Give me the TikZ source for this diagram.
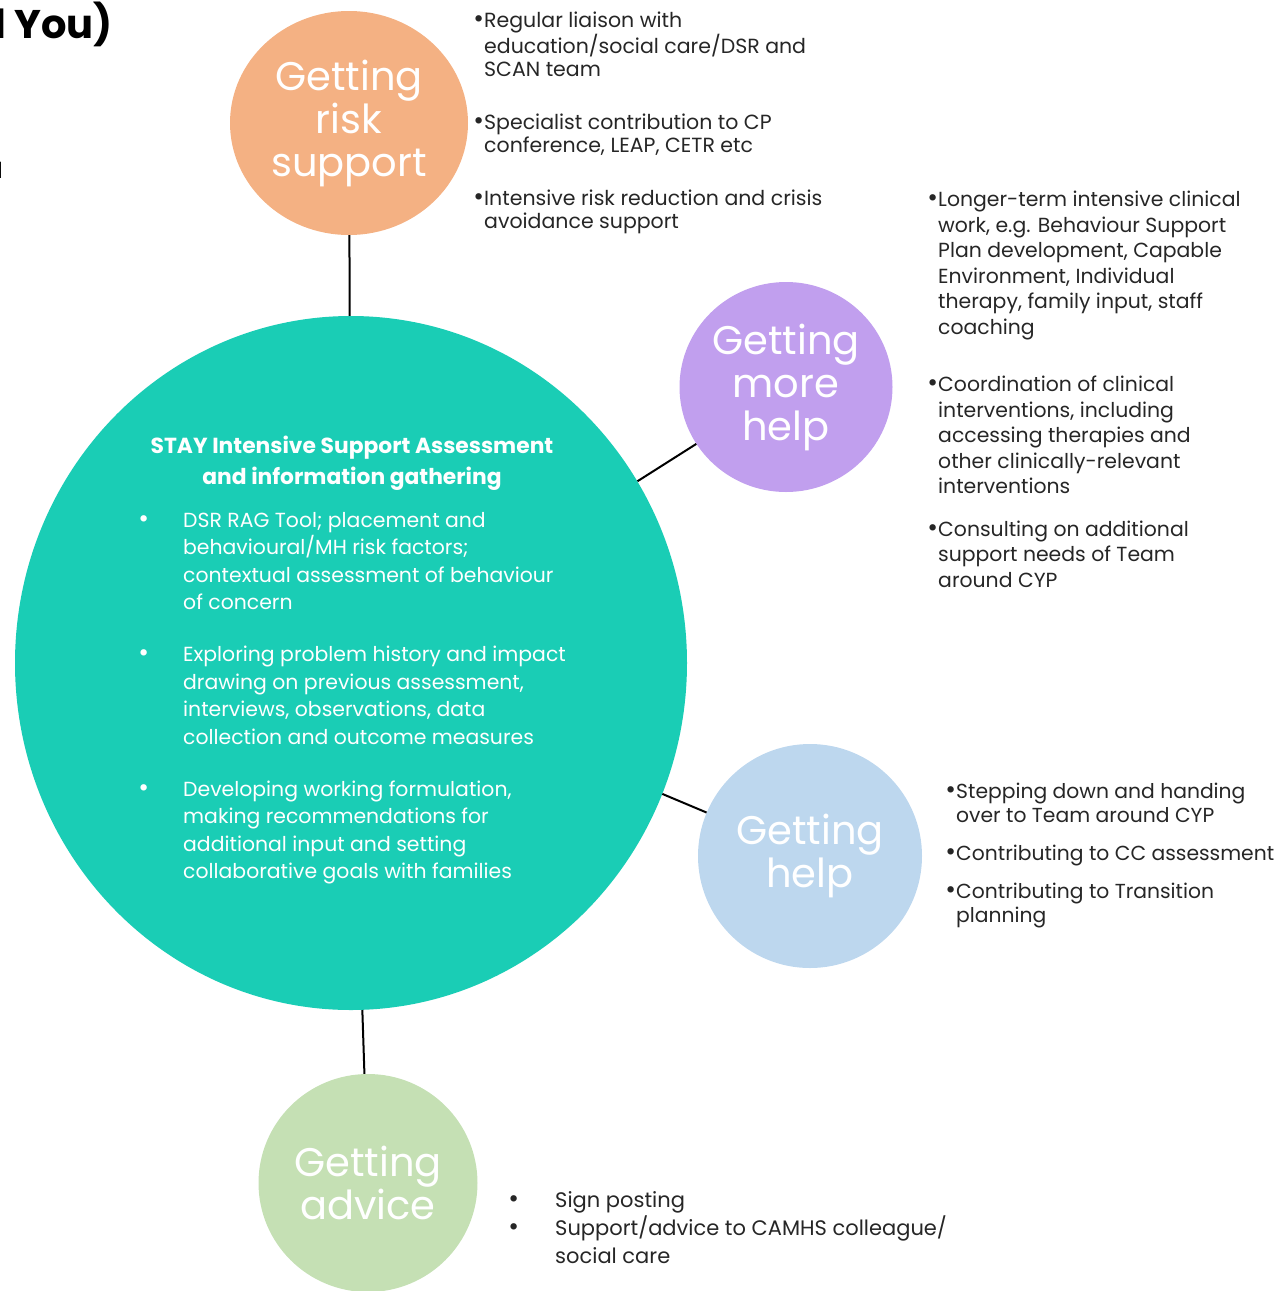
\documentclass[tikz,border=0pt]{standalone}
\usepackage{fontspec}
\setmainfont{Poppins}
\usetikzlibrary{shapes.geometric}

\definecolor{stayteal}{HTML}{1ACDB5}
\definecolor{riskorange}{HTML}{F4B183}
\definecolor{morepurple}{HTML}{C19FEE}
\definecolor{helpblue}{HTML}{BDD7EE}
\definecolor{advicegreen}{HTML}{C5E0B4}
\newcommand{\blt}{{\fontsize{26}{0}\selectfont •}}

\begin{document}
\begin{tikzpicture}[x=1pt, y=-1pt,
    blob/.style={ellipse, inner sep=0pt, text=white, align=center, font=\fontsize{40}{43}\selectfont},
    notes/.style={anchor=north west, inner sep=0pt, align=left, text=black!85},
    link/.style={draw=black, line width=2pt}]
    \useasboundingbox (0,0) rectangle (1278,1291);
    % circles
    \node[blob, fill=stayteal, minimum width=672, minimum height=694] (Main) at (351, 663) {};
    \node[blob, fill=riskorange, minimum width=238, minimum height=224] (Risk) at (349, 123) {Getting\\risk\\support};
    \node[blob, fill=morepurple, minimum width=213, minimum height=210] (More) at (786, 387) {Getting\\more\\help};
    \node[blob, fill=helpblue, minimum width=224, minimum height=224] (Help) at (810, 856) {Getting\\help};
    \node[blob, fill=advicegreen, minimum width=219, minimum height=218] (Advice) at (368, 1183) {Getting\\advice};
    \foreach \u in {Risk, More, Help, Advice}
        \draw[link] (\u) -- (Main);
    % clipped heading
    \node[anchor=base east, inner sep=0pt, font=\fontsize{40}{40}\bfseries\selectfont] (Head) at (113, 38) {l You)};
    \node[anchor=base east, inner sep=0pt, font=\fontsize{22}{22}\selectfont] (HeadB) at (3, 178) {l};
    % main circle text
    \node[anchor=base, inner sep=0pt, align=center, text=white, font=\fontsize{21.8}{31}\bfseries\selectfont] (Title) at (352, 484)
        {STAY Intensive Support Assessment\\and information gathering};
    \node[notes, text=white, font=\fontsize{20.4}{27.4}\selectfont] (MainList) at (183, 512)
        {\llap{\blt\hspace{34pt}}DSR RAG Tool; placement and\\behavioural/MH risk factors;\\contextual assessment of behaviour\\of concern\\[25pt]
         \llap{\blt\hspace{34pt}}Exploring problem history and impact\\drawing on previous assessment,\\interviews, observations, data\\collection and outcome measures\\[25pt]
         \llap{\blt\hspace{34pt}}Developing working formulation,\\making recommendations for\\additional input and setting\\collaborative goals with families};
    % side notes
    \node[notes, font=\fontsize{20.5}{23}\selectfont] (RiskList) at (484, 12)
        {\llap{\blt}Regular liaison with\\education/social care/DSR and\\SCAN team\\[30pt]
         \llap{\blt}Specialist contribution to CP\\conference, LEAP, CETR etc\\[30pt]
         \llap{\blt}Intensive risk reduction and crisis\\avoidance support};
    \node[notes, font=\fontsize{20.4}{25.5}\selectfont] (MoreList) at (938, 191)
        {\llap{\blt}Longer-term intensive clinical\\work, e.g. Behaviour Support\\Plan development, Capable\\Environment, Individual\\therapy, family input, staff\\coaching\\[32pt]
         \llap{\blt}Coordination of clinical\\interventions, including\\accessing therapies and\\other clinically-relevant\\interventions\\[17pt]
         \llap{\blt}Consulting on additional\\support needs of Team\\around CYP};
    \node[notes, font=\fontsize{20.3}{24}\selectfont] (HelpList) at (956, 783)
        {\llap{\blt}Stepping down and handing\\over to Team around CYP\\[14pt]
         \llap{\blt}Contributing to CC assessment\\[14pt]
         \llap{\blt}Contributing to Transition\\planning};
    \node[notes, font=\fontsize{21}{28}\selectfont] (AdviceList) at (555, 1191)
        {\llap{\blt\hspace{36pt}}Sign posting\\\llap{\blt\hspace{36pt}}Support/advice to CAMHS colleague/\\social care};
\end{tikzpicture}
\end{document}
